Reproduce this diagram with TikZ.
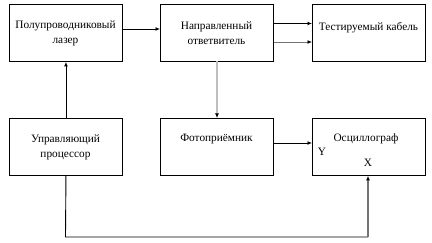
\documentclass[tikz,border=0pt]{standalone}
\usepackage{fontspec}
\setmainfont{Liberation Serif}
\usetikzlibrary{arrows.meta}
\begin{document}
\begin{tikzpicture}[x=1pt,y=-1pt,
  blk/.style={draw,line width=0.9pt,minimum width=113pt,minimum height=57pt,anchor=north west,inner sep=0pt},
  lbl/.style={font=\fontsize{11.3}{15}\selectfont,align=center,inner sep=0pt},
  arr/.style={line width=0.9pt,-{Latex[length=4.5pt,width=4pt,color=black]}},
  garr/.style={arr,draw=black!55}]
\useasboundingbox (0,0) rectangle (432,243);
\node[blk] (laser) at (9,4) {};
\node[blk] (coup) at (160,4) {};
\node[blk] (cable) at (312,4) {};
\node[blk] (proc) at (9,118) {};
\node[blk] (photo) at (160,118) {};
\node[blk] (osc) at (312,118) {};
\node[lbl] (t1) at (65.5,33) {Полупроводниковый\\лазер};
\node[lbl] (t2) at (216.5,33) {Направленный\\ответвитель};
\node[lbl] (t3) at (368.5,28) {Тестируемый кабель};
\node[lbl] (t4) at (65.5,147) {Управляющий\\процессор};
\node[lbl] (t5) at (216.5,139) {Фотоприёмник};
\node[lbl] (t6) at (366,139) {Осциллограф};
\node[lbl] (ty) at (322,152) {Y};
\node[lbl] (tx) at (368,163) {X};
\draw[arr] (laser.east |- 0,29) -- (coup.west |- 0,29);
\draw[arr] (coup.east |- 0,23.5) -- (cable.west |- 0,23.5);
\draw[garr] (coup.east |- 0,42) -- (cable.west |- 0,42);
\draw[arr,draw=black!25,line width=1.6pt] (217,61) -- (photo.north -| 217,0);
\draw[arr] (proc.north) -- (laser.south);
\draw[arr] (photo.east |- 0,143) -- (osc.west |- 0,143);
\coordinate (c1) at (65.5,237);
\coordinate (c2) at (368,237);
\draw[line width=0.9pt] (proc.south) -- (c1) -- (c2);
\draw[garr,line width=1.4pt] (c2) -- (osc.south -| c2);
\end{tikzpicture}
\end{document}
